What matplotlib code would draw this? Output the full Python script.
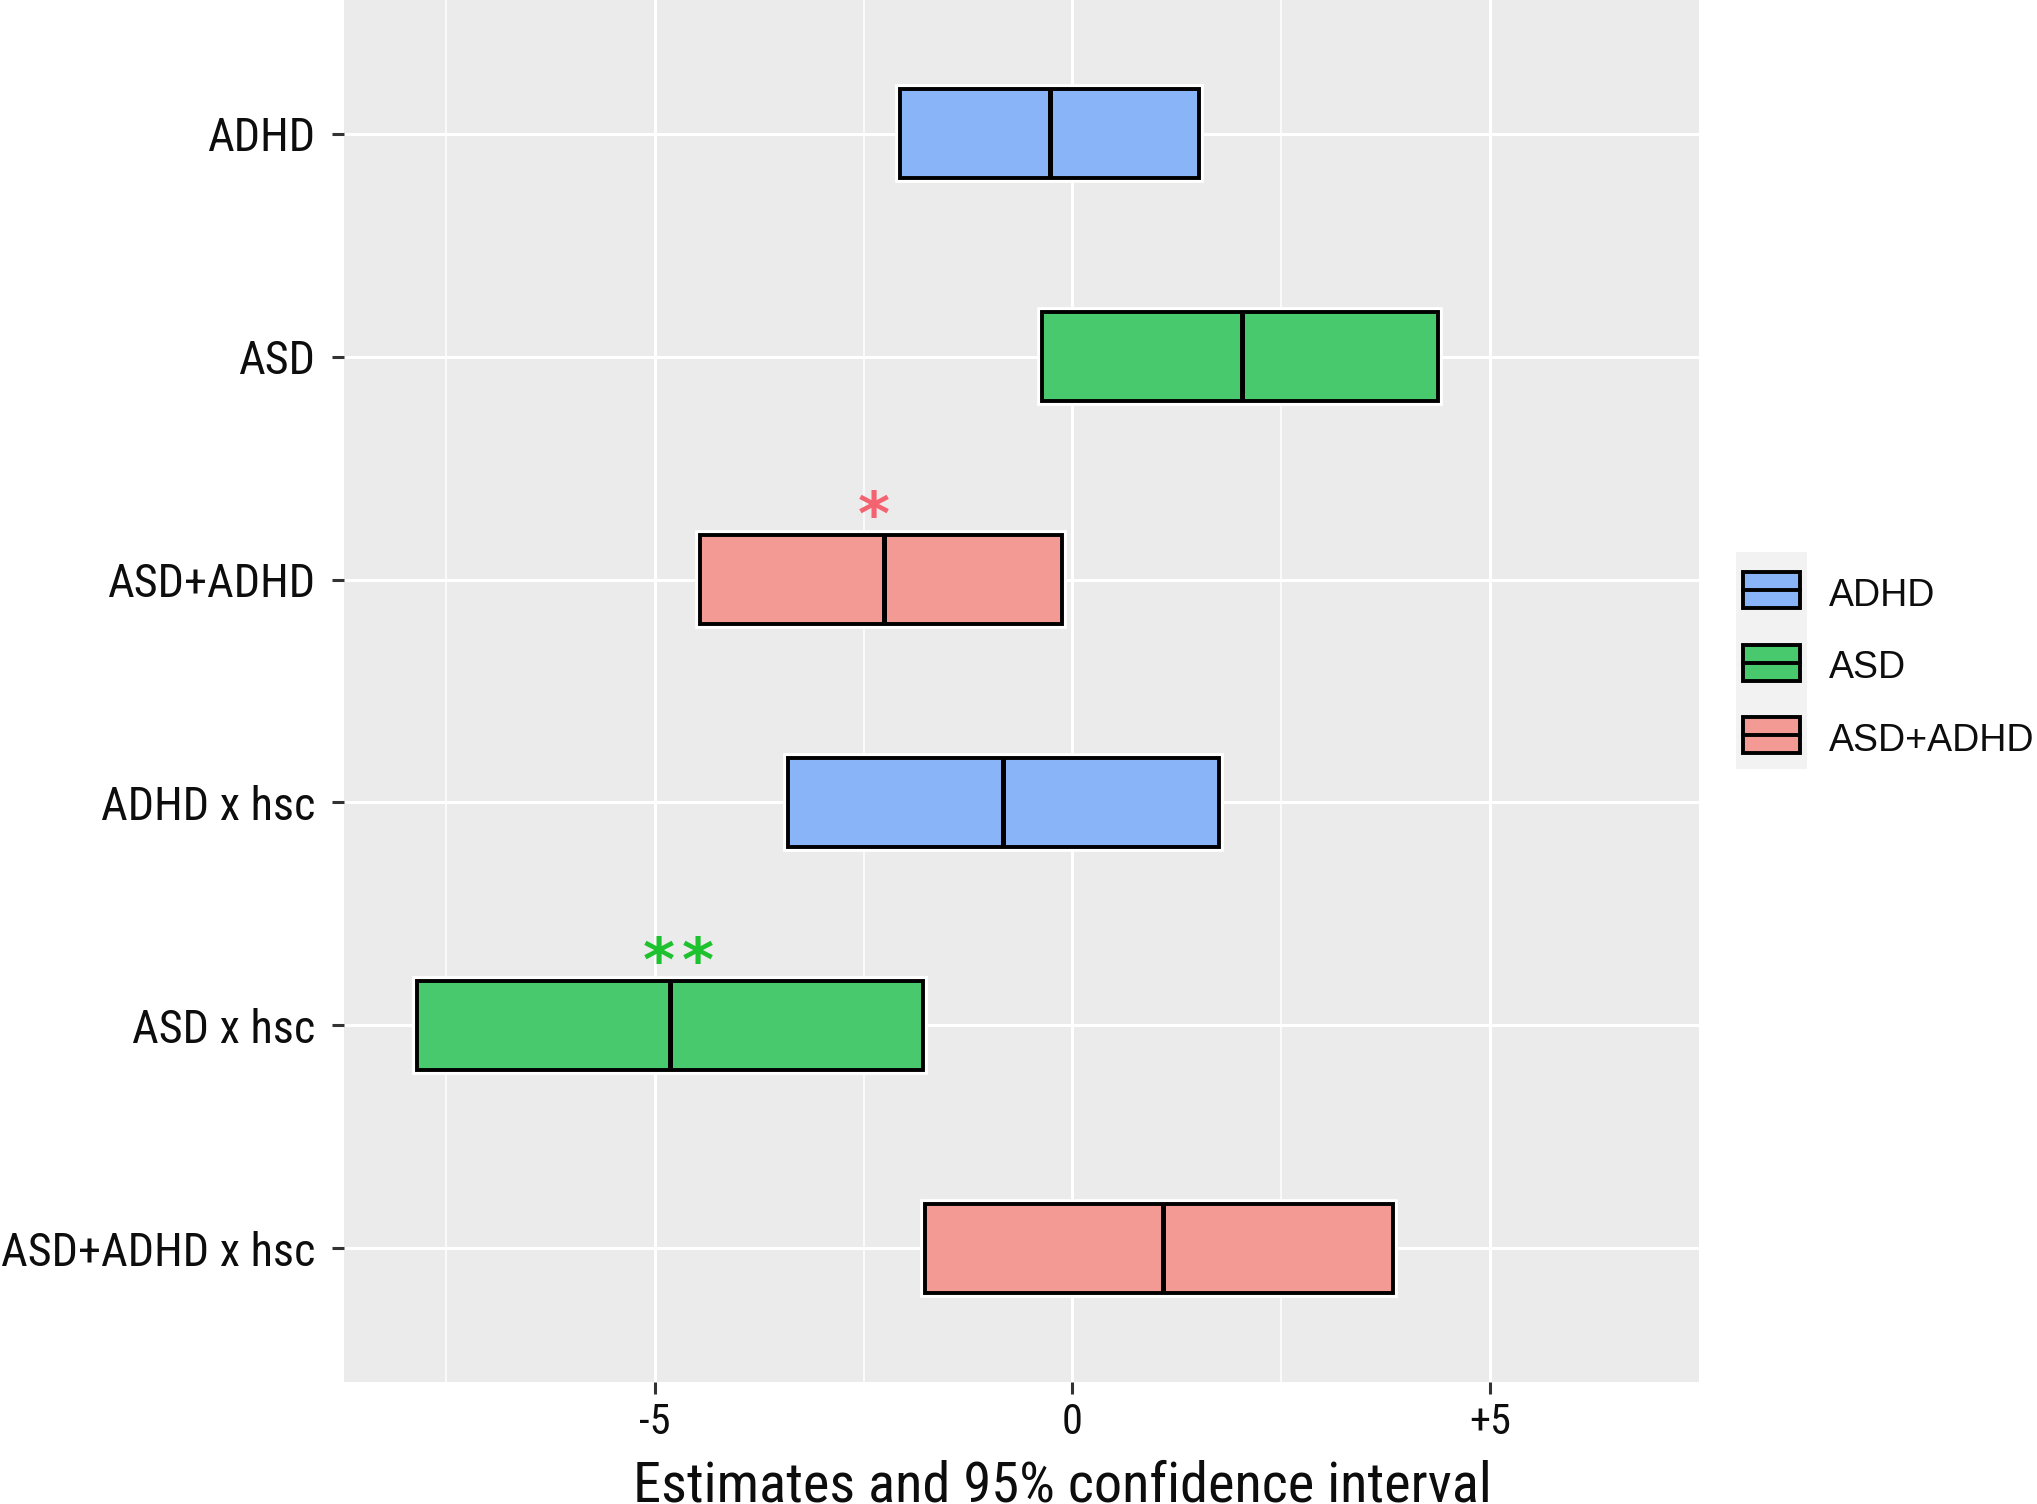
import matplotlib
matplotlib.use("Agg")
import matplotlib.pyplot as plt
import matplotlib.patheffects as pe
from matplotlib.patches import Rectangle
from matplotlib import font_manager
from matplotlib.textpath import TextPath
from matplotlib.font_manager import FontProperties

# ── Data ───────────────────────────────────────────────────────────────────
terms = ["ADHD", "ASD", "ASD+ADHD", "ADHD x hsc", "ASD x hsc", "ASD+ADHD x hsc"]
groups = ["ADHD", "ASD", "ASD+ADHD", "ADHD", "ASD", "ASD+ADHD"]
estimate = [-0.27, 2.03, -2.26, -0.83, -4.82, 1.08]
ci_low = [-2.06, -0.36, -4.46, -3.40, -7.85, -1.76]
ci_high = [1.51, 4.37, -0.12, 1.75, -1.79, 3.84]
sig_label = ["", "", "*", "", "**", ""]
sig_x = [0, 0, -2.38, 0, -4.72, 0]

legend_groups = ["ADHD", "ASD", "ASD+ADHD"]
fill = {"ADHD": "#8AB4F8", "ASD": "#48C96E", "ASD+ADHD": "#F49A94"}
star_col = {"ASD": "#1EC22E", "ASD+ADHD": "#F46470", "ADHD": "#619CFF"}

x_ticks = [-5, 0, 5]
x_ticklabels = ["-5", "0", "+5"]
x_minor = [-7.5, -2.5, 2.5]
x_title = "Estimates and 95% confidence interval"

# ── Narrow font (Calibri-like widths) ──────────────────────────────────────
installed = {f.name for f in font_manager.fontManager.ttflist}
FAM = next((f for f in ["Liberation Sans Narrow", "Roboto Condensed", "Roboto", "Open Sans"]
            if f in installed), "DejaVu Sans")


def fit_size(s, target_px):
    # font size (pt) that makes string s about target_px wide at 100 dpi
    w = TextPath((0, 0), s, size=10, prop=FontProperties(family=FAM)).get_extents().width
    return 10 * target_px / (w * 100 / 72)


lab_size = fit_size("ASD+ADHD x hsc", 312)
title_size = fit_size(x_title, 850)

W, H = 2037, 1504
fig = plt.figure(figsize=(W / 100, H / 100), dpi=100)
ax = fig.add_axes([344 / W, 1 - 1382 / H, (1699 - 344) / W, 1382 / H])
ax.set_facecolor("#EBEBEB")
for s in ax.spines.values():
    s.set_visible(False)

# grid (ggplot style)
ax.set_xticks(x_ticks)
ax.set_xticks(x_minor, minor=True)
ax.set_yticks(range(len(terms)))
ax.grid(True, which="major", color="white", lw=2.2)
ax.grid(True, which="minor", axis="x", color="white", lw=1.1)
ax.tick_params(which="minor", length=0)
ax.set_axisbelow(True)

# ── Crossbars ──────────────────────────────────────────────────────────────
halo = [pe.Stroke(linewidth=7, foreground="white"), pe.Normal()]
for i, (g, lo, hi, est) in enumerate(zip(groups, ci_low, ci_high, estimate)):
    ax.barh(i, hi - lo, left=lo, height=0.4, color=fill[g],
            edgecolor="black", lw=2.8, zorder=3, path_effects=halo)
    ax.vlines(est, i - 0.2, i + 0.2, color="black", lw=3.6, zorder=4)

# significance stars
for i, (lab, sx, g) in enumerate(zip(sig_label, sig_x, groups)):
    n = len(lab)
    for k in range(n):
        ax.annotate("*", xy=(sx, i - 0.2), xytext=((k - (n - 1) / 2) * 28, 0),
                    textcoords="offset points", ha="center", va="baseline",
                    fontsize=44, fontweight="bold", color=star_col[g],
                    family="DejaVu Sans", zorder=5)

ax.set_xlim(-8.72, 7.5)
ax.set_ylim(len(terms) - 0.4, -0.6)
ax.set_yticklabels(terms, fontsize=lab_size, family=FAM, color="#0d0d0d")
ax.set_xticklabels(x_ticklabels, fontsize=lab_size * 0.92, family=FAM, color="#0d0d0d")
ax.tick_params(axis="y", which="major", length=8.5, width=2.2, color="#333333", pad=12)
ax.tick_params(axis="x", which="major", length=8.5, width=2.2, color="#333333", pad=6)
ax.set_xlabel(x_title, fontsize=title_size, family=FAM, color="#0d0d0d",
              labelpad=12, x=0.53)

# ── Legend (crossbar keys on grey key background) ─────────────────────────
lax = fig.add_axes([0, 0, 1, 1], facecolor="none")
lax.set_xlim(0, W)
lax.set_ylim(H, 0)
lax.axis("off")
lax.add_patch(Rectangle((1736, 552), 71, 217, color="#F2F2F2", lw=0))
for j, g in enumerate(legend_groups):
    yc = 590 + j * 72.5
    lax.add_patch(Rectangle((1743, yc - 18), 57, 36, facecolor=fill[g],
                            edgecolor="black", lw=2.8))
    lax.plot([1743, 1800], [yc, yc], color="black", lw=2.8)
    lax.text(1829, yc + 6, g, fontsize=27, family="Liberation Sans",
             va="center", ha="left", color="#0d0d0d")

fig.savefig("out.png", dpi=100)
